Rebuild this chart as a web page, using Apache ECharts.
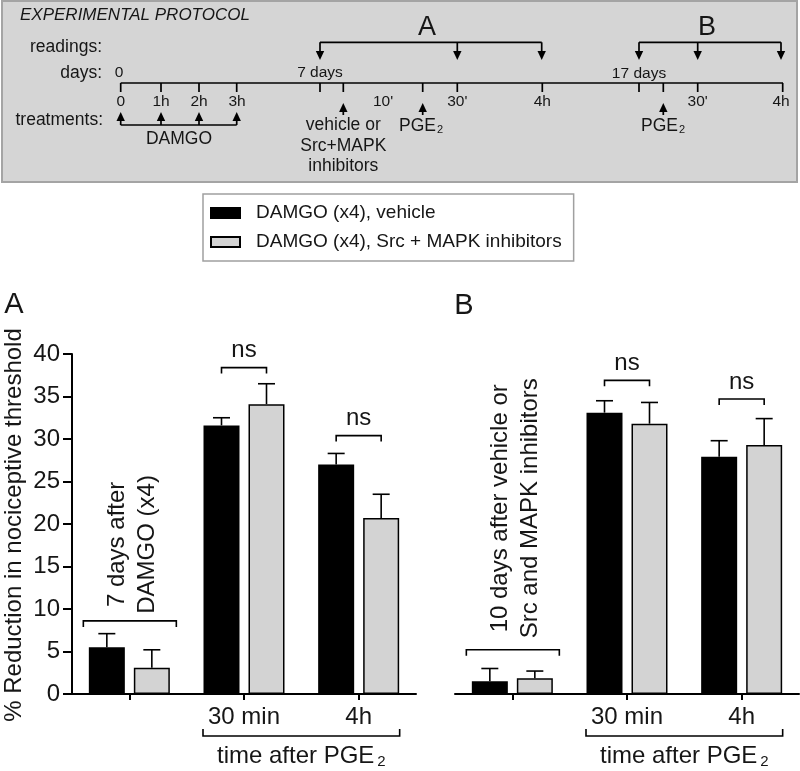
<!DOCTYPE html>
<html>
<head>
<meta charset="utf-8">
<script src="https://cdn.jsdelivr.net/npm/echarts@6/dist/echarts.min.js"></script>
<style>
  html, body { margin: 0; padding: 0; background: #fff; }
  #chart { width: 800px; height: 771px; }
</style>
</head>
<body>
<div id="chart"></div>
<script>
// ---------------- data ----------------
const categories = ['', '30 min', '4h'];
const seriesNames = ['DAMGO (x4), vehicle', 'DAMGO (x4), Src + MAPK inhibitors'];
const yMin = 0, yMax = 40, yStep = 5;

const panelA_vehicle    = [5.5, 31.6, 27.0];
const panelA_vehicleErr = [1.6, 0.9, 1.3];
const panelA_inhib      = [3.1, 34.1, 20.7];
const panelA_inhibErr   = [2.1, 2.4, 2.8];

const panelB_vehicle    = [1.5, 33.1, 27.9];
const panelB_vehicleErr = [1.5, 1.4, 1.9];
const panelB_inhib      = [1.85, 31.8, 29.3];
const panelB_inhibErr   = [0.85, 2.5, 3.1];

const yAxisTitle = '% Reduction in nociceptive threshold';
const groupNoteA = ['7 days after', 'DAMGO (x4)'];
const groupNoteB = ['10 days after vehicle or', 'Src and MAPK inhibitors'];

// ---------------- styles ----------------
const FONT = "'Liberation Sans', Arial, Helvetica, sans-serif";
const INK = '#161616';
const BAR_W = 36, BAR_GAP = 0.25;
const OFFSET = (BAR_W + BAR_W * BAR_GAP) / 2;
const GREY = '#d3d3d3';

// annotation placement (data units for heights)
const annotA = { groupBracket: 8.6, ns: [null, 38.4, 30.4] };
const annotB = { groupBracket: 5.2, ns: [null, 36.9, 34.7] };

const chart = echarts.init(document.getElementById('chart'));

function errRender(offset) {
  return function (params, api) {
    const cat = api.value(0);
    const base = api.coord([cat, api.value(1)]);
    const top = api.coord([cat, api.value(2)]);
    const x = base[0] + offset;
    return {
      type: 'group',
      children: [
        { type: 'line', shape: { x1: x, y1: base[1], x2: x, y2: top[1] }, style: { stroke: '#000', lineWidth: 1.6 } },
        { type: 'line', shape: { x1: x - 8.5, y1: top[1], x2: x + 8.5, y2: top[1] }, style: { stroke: '#000', lineWidth: 1.6 } }
      ]
    };
  };
}
function errData(vals, errs) { return vals.map((v, i) => [i, v, v + errs[i]]); }

function xAxisCfg(gi) {
  return {
    type: 'category', gridIndex: gi, data: categories,
    axisLine: { show: true, lineStyle: { color: '#000', width: 2 } },
    axisTick: { show: true, alignWithLabel: true, length: 6, lineStyle: { color: '#000', width: 2 } },
    axisLabel: { fontSize: 24, color: INK, fontFamily: FONT, margin: 11 },
    splitLine: { show: false }
  };
}
function yAxisCfg(gi, show) {
  return {
    type: 'value', gridIndex: gi, min: yMin, max: yMax, interval: yStep, show: show,
    axisLine: { show: true, lineStyle: { color: '#000', width: 2 } },
    axisTick: { show: true, length: 9, lineStyle: { color: '#000', width: 2 } },
    axisLabel: { fontSize: 24, color: INK, fontFamily: FONT, margin: 12 },
    splitLine: { show: false }
  };
}
function barSeries(name, gi, data, black) {
  return {
    name: name, type: 'bar', xAxisIndex: gi, yAxisIndex: gi, data: data,
    barWidth: BAR_W, barGap: (BAR_GAP * 100) + '%',
    itemStyle: black ? { color: '#000', borderColor: '#000', borderWidth: 1.5 }
                     : { color: GREY, borderColor: '#000', borderWidth: 1.5 },
    emphasis: { disabled: true }, z: 3
  };
}
function errSeries(gi, vals, errs, offset) {
  return {
    type: 'custom', xAxisIndex: gi, yAxisIndex: gi, renderItem: errRender(offset),
    data: errData(vals, errs), z: 2, silent: true
  };
}

const option = {
  animation: false,
  backgroundColor: '#fff',
  textStyle: { fontFamily: FONT },
  grid: [
    { left: 72, top: 354, width: 344, height: 340 },
    { left: 455, top: 354, width: 344, height: 340 }
  ],
  legend: {
    data: seriesNames, orient: 'vertical', left: 203, top: 194,
    backgroundColor: '#fff', borderColor: '#a0a0a0', borderWidth: 1.5,
    padding: [9, 12, 9, 7], itemWidth: 29, itemHeight: 10, itemGap: 9, icon: 'rect',
    selectedMode: false,
    textStyle: { fontSize: 19, color: INK, fontFamily: FONT, lineHeight: 20, padding: [0, 0, 0, 11] }
  },
  xAxis: [xAxisCfg(0), xAxisCfg(1)],
  yAxis: [yAxisCfg(0, true), yAxisCfg(1, false)],
  series: [
    barSeries(seriesNames[0], 0, panelA_vehicle, true),
    barSeries(seriesNames[1], 0, panelA_inhib, false),
    errSeries(0, panelA_vehicle, panelA_vehicleErr, -OFFSET),
    errSeries(0, panelA_inhib, panelA_inhibErr, OFFSET),
    barSeries(seriesNames[0], 1, panelB_vehicle, true),
    barSeries(seriesNames[1], 1, panelB_inhib, false),
    errSeries(1, panelB_vehicle, panelB_vehicleErr, -OFFSET),
    errSeries(1, panelB_inhib, panelB_inhibErr, OFFSET)
  ]
};
chart.setOption(option);

// ---------------- annotations ----------------
const G = [];
function txt(x, y, text, size, opts) {
  opts = opts || {};
  const el = {
    type: 'text', x: x, y: y, rotation: opts.rotation || 0, silent: true, z: 10,
    style: {
      text: text, fontSize: size, fontFamily: FONT, fill: opts.color || INK,
      fontStyle: opts.italic ? 'italic' : 'normal',
      textAlign: opts.align || 'center', textVerticalAlign: 'middle',
      align: opts.align || 'center', verticalAlign: 'middle',
      lineHeight: opts.lineHeight
    }
  };
  if (opts.rich) el.style.rich = opts.rich;
  G.push(el);
}
function poly(points, lw) {
  G.push({ type: 'polyline', silent: true, z: 10, shape: { points: points }, style: { stroke: '#000', lineWidth: lw || 1.6, fill: null } });
}
function tri(points) {
  G.push({ type: 'polygon', silent: true, z: 10, shape: { points: points }, style: { fill: '#000' } });
}
function px(gi, cat, val) { return chart.convertToPixel({ xAxisIndex: gi, yAxisIndex: gi }, [cat, val]); }

const subRich = { a: { fontSize: 24, fontFamily: FONT, color: INK }, b: { fontSize: 15, fontFamily: FONT, color: INK, padding: [12, 0, 0, 3] } };

function panelAnnot(gi, annot, note) {
  const base = px(gi, 0, 0);
  const c0 = px(gi, 0, annot.groupBracket);
  poly([[c0[0] - 46, c0[1] + 6], [c0[0] - 46, c0[1]], [c0[0] + 47, c0[1]], [c0[0] + 47, c0[1] + 6]]);
  txt(c0[0] + 3, c0[1] - 14 - note.len / 2, note.lines.join('\n'), 24, { rotation: Math.PI / 2, lineHeight: 30 });
  for (let i = 1; i < categories.length; i++) {
    if (annot.ns[i] == null) continue;
    const p = px(gi, i, annot.ns[i]);
    poly([[p[0] - OFFSET, p[1] + 6], [p[0] - OFFSET, p[1]], [p[0] + OFFSET, p[1]], [p[0] + OFFSET, p[1] + 6]]);
    txt(p[0], p[1] - 17, 'ns', 24);
  }
  const c1 = px(gi, 1, 0), c2 = px(gi, 2, 0);
  const yb = base[1] + 42;
  poly([[c1[0] - 41, yb - 7], [c1[0] - 41, yb], [c2[0] + 41, yb], [c2[0] + 41, yb - 7]]);
  txt((c1[0] + c2[0]) / 2, yb + 20, '{a|time after PGE}{b|2}', 24, { rich: subRich });
}
panelAnnot(0, annotA, { lines: groupNoteA, len: 125 });
panelAnnot(1, annotB, { lines: groupNoteB, len: 255 });

const yTop = px(0, 0, yMax)[1], yBot = px(0, 0, yMin)[1];
txt(14, (yTop + yBot) / 2 + 1, yAxisTitle, 24, { rotation: Math.PI / 2 });

txt(14, 305, 'A', 29);
txt(464, 306, 'B', 29);

// ---------------- protocol box ----------------
G.push({ type: 'rect', silent: true, z: 1, shape: { x: 2, y: 1, width: 795, height: 181 }, style: { fill: '#d5d5d5', stroke: '#a4a4a4', lineWidth: 2 } });
const PF = 17.5;
txt(20, 15, 'EXPERIMENTAL PROTOCOL', 17, { align: 'left', italic: true });
txt(102, 47, 'readings:', PF, { align: 'right' });
txt(102, 73, 'days:', PF, { align: 'right' });
txt(103, 120, 'treatments:', PF, { align: 'right' });

const TL_Y = 83;
poly([[120.7, TL_Y], [783, TL_Y]], 1.7);
const tlTicks = [120.7, 161, 199, 236.7, 320, 343.3, 422.7, 457.3, 542.3, 639, 663.3, 697.7, 782.7];
tlTicks.forEach(x => poly([[x, TL_Y], [x, TL_Y + 9]], 1.7));
const tlLabels = [['0', 120.7], ['1h', 161], ['2h', 199], ['3h', 237], ["10'", 383], ["30'", 457.3], ['4h', 542.3], ["30'", 697.7], ['4h', 781]];
tlLabels.forEach(l => txt(l[1], 102, l[0], 15.5));
txt(119, 73, '0', 15.5);
txt(320, 73, '7 days', 15.5);
txt(639, 74, '17 days', 15.5);

function downArrow(x, y1, y2) { poly([[x, y1], [x, y2 - 6]], 1.7); tri([[x - 4.2, y2 - 9], [x + 4.2, y2 - 9], [x, y2]]); }
function upArrow(x, yb, yt) { poly([[x, yb], [x, yt + 6]], 1.7); tri([[x - 4.2, yt + 9], [x + 4.2, yt + 9], [x, yt]]); }

[120.7, 161, 199, 236.7].forEach(x => upArrow(x, 125, 112));
poly([[120.7, 125], [236.7, 125]], 1.7);
txt(179, 139, 'DAMGO', PF);
upArrow(343.3, 115, 103);
txt(343.3, 146, 'vehicle or\nSrc+MAPK\ninhibitors', PF, { lineHeight: 20.5 });
const pRich = { a: { fontSize: PF, fontFamily: FONT, color: INK }, b: { fontSize: 11, fontFamily: FONT, color: INK, padding: [8, 0, 0, 1] } };
upArrow(422.7, 115, 103);
txt(421, 126, '{a|PGE}{b|2}', PF, { rich: pRich });
upArrow(663.3, 115, 103);
txt(663, 126, '{a|PGE}{b|2}', PF, { rich: pRich });
poly([[320, 42.3], [541.7, 42.3]], 1.7);
[320, 457.3, 541.7].forEach(x => downArrow(x, 42.3, 60));
txt(427, 28, 'A', 27);
poly([[639, 42.3], [781, 42.3]], 1.7);
[639, 697.7, 781].forEach(x => downArrow(x, 42.3, 60));
txt(707, 28, 'B', 27);

chart.setOption({ graphic: { elements: G } });
</script>
</body>
</html>
